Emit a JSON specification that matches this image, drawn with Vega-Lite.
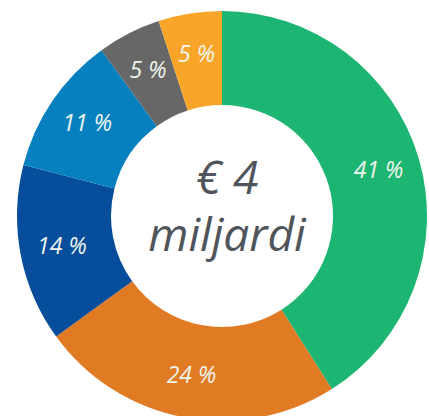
{
  "$schema": "https://vega.github.io/schema/vega-lite/v6.json",
  "width": 444,
  "height": 432,
  "autosize": "none",
  "padding": 0,
  "background": "white",
  "view": {"stroke": null},
  "datasets": {
    "parts": [
      {"cat": "A", "value": 41, "label": "41 %", "ord": 1},
      {"cat": "B", "value": 24, "label": "24 %", "ord": 2},
      {"cat": "C", "value": 14, "label": "14 %", "ord": 3},
      {"cat": "D", "value": 11, "label": "11 %", "ord": 4},
      {"cat": "E", "value": 5, "label": "5 %", "ord": 5},
      {"cat": "F", "value": 5, "label": "5 %", "ord": 6}
    ],
    "center": [{"text": "€ 4\nmiljardi"}]
  },
  "layer": [
    {
      "data": {"name": "parts"},
      "mark": {"type": "arc", "outerRadius": 205, "innerRadius": 111, "stroke": null},
      "encoding": {
        "theta": {"field": "value", "type": "quantitative", "stack": true},
        "order": {"field": "ord", "type": "quantitative"},
        "color": {
          "field": "cat", "type": "nominal", "legend": null,
          "scale": {"domain": ["A","B","C","D","E","F"], "range": ["#1db572","#e07b24","#064e9b","#0780c0","#676767","#f8a52a"]}
        }
      }
    },
    {
      "data": {"name": "parts"},
      "mark": {"type": "text", "radius": 163, "font": "Open Sans", "fontStyle": "italic", "fontSize": 23, "color": "#eef5ee"},
      "encoding": {
        "theta": {"field": "value", "type": "quantitative", "stack": true},
        "order": {"field": "ord", "type": "quantitative"},
        "text": {"field": "label"}
      }
    },
    {
      "data": {"name": "center"},
      "mark": {"type": "text", "font": "Open Sans", "fontStyle": "italic", "fontSize": 46, "lineHeight": 57, "lineBreak": "\n", "color": "#50555c", "baseline": "middle", "align": "center", "dy": -36, "dx": 5},
      "encoding": {"text": {"field": "text"}}
    }
  ]
}
